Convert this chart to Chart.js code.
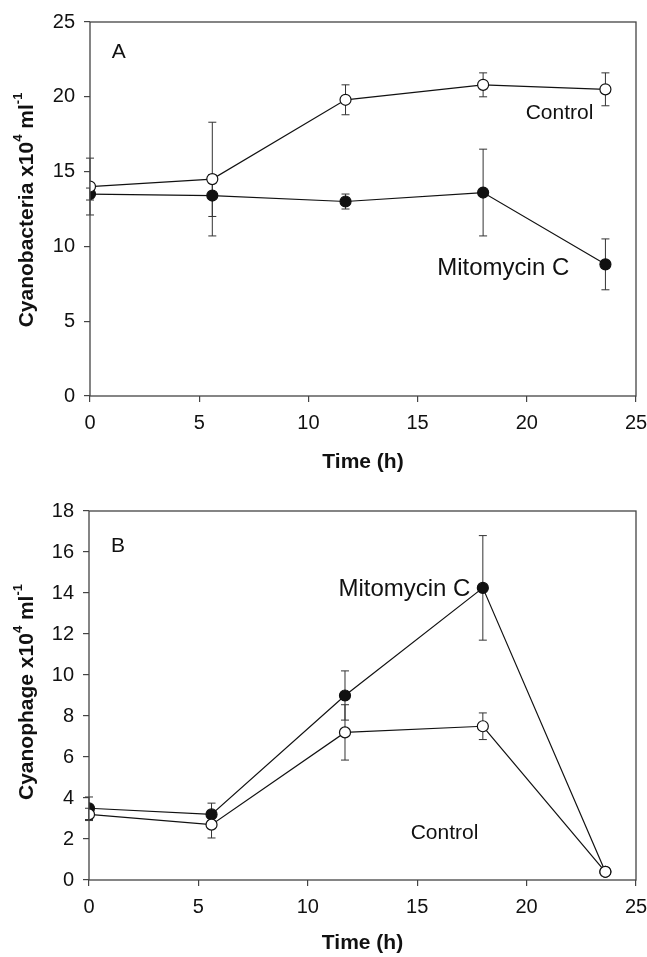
<!DOCTYPE html>
<html>
<head>
<meta charset="utf-8">
<script src="https://cdn.jsdelivr.net/npm/chart.js@4.4.1/dist/chart.umd.min.js"></script>
<style>
  body { margin: 0; background: #fff; }
  .panel { position: absolute; left: 0; }
</style>
</head>
<body>
<div class="panel" style="top:0"><canvas id="chartA" width="647" height="480"></canvas></div>
<div class="panel" style="top:480px"><canvas id="chartB" width="647" height="477"></canvas></div>
<script>
// sampling times (h)
const timeH = [0, 5.6, 11.7, 18, 23.6];

// panel A: cyanobacteria x10^4 ml-1
const cyanoControl = [14.0, 14.5, 19.8, 20.8, 20.5];
const cyanoControlErr = [1.9, 3.8, 1.0, 0.8, 1.1];
const cyanoMito = [13.5, 13.4, 13.0, 13.6, 8.8];
const cyanoMitoErr = [0.4, 1.4, 0.5, 2.9, 1.7];

// panel B: cyanophage x10^4 ml-1
const phageControl = [3.2, 2.7, 7.2, 7.5, 0.4];
const phageControlErr = [0.3, 0.65, 1.35, 0.65, 0];
const phageMito = [3.5, 3.2, 9.0, 14.25, 0.4];
const phageMitoErr = [0.55, 0.55, 1.2, 2.55, 0];

const xTicks = [0, 5, 10, 15, 20, 25];
const cyanoTicks = [0, 5, 10, 15, 20, 25];
const phageTicks = [0, 2, 4, 6, 8, 10, 12, 14, 16, 18];

const FONT = "'Liberation Sans', Arial, sans-serif";

function points(ys) {
  return timeH.map((t, i) => ({ x: t, y: ys[i] }));
}

function series(label, ys, errs, open) {
  return {
    label: label,
    data: points(ys),
    errors: errs,
    showLine: true,
    borderColor: '#111',
    borderWidth: 1.2,
    pointRadius: 5.5,
    pointHoverRadius: 5.5,
    pointBorderWidth: 1.2,
    pointBorderColor: '#111',
    pointBackgroundColor: open ? '#fff' : '#111',
    tension: 0
  };
}

// vertical error bars with caps, drawn under the markers
const errorBars = {
  id: 'errorBars',
  beforeDatasetsDraw(chart) {
    const ctx = chart.ctx, xs = chart.scales.x, ys = chart.scales.y;
    ctx.save();
    ctx.strokeStyle = '#333';
    ctx.lineWidth = 1;
    chart.data.datasets.forEach(ds => {
      ds.data.forEach((p, i) => {
        const e = ds.errors[i];
        if (!e) return;
        const px = xs.getPixelForValue(p.x);
        const top = ys.getPixelForValue(p.y + e);
        const bot = ys.getPixelForValue(p.y - e);
        ctx.beginPath();
        ctx.moveTo(px, top); ctx.lineTo(px, bot);
        ctx.moveTo(px - 4, top); ctx.lineTo(px + 4, top);
        ctx.moveTo(px - 4, bot); ctx.lineTo(px + 4, bot);
        ctx.stroke();
      });
    });
    ctx.restore();
  }
};

// box round the plot area
const frame = {
  id: 'frame',
  afterDraw(chart) {
    const a = chart.chartArea, ctx = chart.ctx;
    ctx.save();
    ctx.strokeStyle = '#444';
    ctx.lineWidth = 1.3;
    ctx.strokeRect(a.left, a.top, a.right - a.left, a.bottom - a.top);
    ctx.restore();
  }
};

// text with superscripts, parts = [[text, isSup], ...]
function richWidth(ctx, parts, size) {
  let w = 0;
  parts.forEach(([t, sup]) => {
    ctx.font = 'bold ' + (sup ? Math.round(size * 0.62) : size) + 'px ' + FONT;
    w += ctx.measureText(t).width;
  });
  return w;
}

function drawRich(ctx, parts, size) {
  let x = -richWidth(ctx, parts, size) / 2;
  parts.forEach(([t, sup]) => {
    ctx.font = 'bold ' + (sup ? Math.round(size * 0.62) : size) + 'px ' + FONT;
    ctx.fillText(t, x, sup ? -size * 0.4 : 0);
    x += ctx.measureText(t).width;
  });
}

const annotate = {
  id: 'annotate',
  afterDraw(chart, args, opts) {
    const ctx = chart.ctx, xs = chart.scales.x, ys = chart.scales.y, a = chart.chartArea;
    ctx.save();
    ctx.fillStyle = '#111';
    ctx.textBaseline = 'middle';
    opts.notes.forEach(n => {
      ctx.font = n.size + 'px ' + FONT;
      ctx.textAlign = 'left';
      ctx.fillText(n.text, xs.getPixelForValue(n.x), ys.getPixelForValue(n.y));
    });
    // y axis title
    ctx.save();
    ctx.translate(opts.yTitleX, opts.yTitleY);
    ctx.rotate(-Math.PI / 2);
    ctx.textAlign = 'left';
    ctx.textBaseline = 'middle';
    drawRich(ctx, opts.yTitle, 21);
    ctx.restore();
    // x axis title
    ctx.font = 'bold 21px ' + FONT;
    ctx.textAlign = 'center';
    ctx.fillText('Time (h)', (a.left + a.right) / 2, opts.xTitleY);
    ctx.restore();
  }
};

function makeChart(id, datasets, yMax, yTicks, areaTop, areaBottom, areaLeft, annot) {
  const cv = document.getElementById(id);
  return new Chart(cv, {
    type: 'scatter',
    data: { datasets: datasets },
    options: {
      responsive: false,
      animation: false,
      layout: { padding: { top: areaTop, right: 11, left: 0, bottom: 0 } },
      plugins: { legend: { display: false }, tooltip: { enabled: false }, annotate: annot },
      scales: {
        x: {
          type: 'linear', min: 0, max: 25,
          afterBuildTicks: s => { s.ticks = xTicks.map(v => ({ value: v })); },
          afterFit: s => { s.height = cv.height - areaBottom; s.paddingLeft = 0; s.paddingRight = 0; },
          border: { display: false },
          grid: { drawOnChartArea: false, tickLength: 6, color: '#444', lineWidth: 1.2 },
          ticks: { color: '#111', font: { family: FONT, size: 20 }, padding: 9, maxRotation: 0 }
        },
        y: {
          type: 'linear', min: 0, max: yMax,
          afterBuildTicks: s => { s.ticks = yTicks.map(v => ({ value: v })); },
          afterFit: s => { s.width = areaLeft; s.paddingTop = 0; s.paddingBottom = 0; },
          border: { display: false },
          grid: { drawOnChartArea: false, tickLength: 6, color: '#444', lineWidth: 1.2 },
          ticks: { color: '#111', font: { family: FONT, size: 20 }, padding: 9 }
        }
      }
    },
    plugins: [errorBars, frame, annotate]
  });
}

makeChart('chartA', [
  series('Control', cyanoControl, cyanoControlErr, true),
  series('Mitomycin C', cyanoMito, cyanoMitoErr, false)
], 25, cyanoTicks, 22, 396, 90, {
  notes: [
    { text: 'A', x: 1.0, y: 23.0, size: 21 },
    { text: 'Control', x: 19.95, y: 18.9, size: 21 },
    { text: 'Mitomycin C', x: 15.9, y: 8.5, size: 24 }
  ],
  yTitle: [['Cyanobacteria x10', false], ['4', true], [' ml', false], ['-1', true]],
  yTitleX: 27, yTitleY: 210, xTitleY: 462
});

makeChart('chartB', [
  series('Control', phageControl, phageControlErr, true),
  series('Mitomycin C', phageMito, phageMitoErr, false)
], 18, phageTicks, 31, 400, 89, {
  notes: [
    { text: 'B', x: 1.0, y: 16.3, size: 21 },
    { text: 'Mitomycin C', x: 11.4, y: 14.2, size: 24 },
    { text: 'Control', x: 14.7, y: 2.3, size: 21 }
  ],
  yTitle: [['Cyanophage x10', false], ['4', true], [' ml', false], ['-1', true]],
  yTitleX: 27, yTitleY: 212, xTitleY: 463
});
</script>
</body>
</html>
